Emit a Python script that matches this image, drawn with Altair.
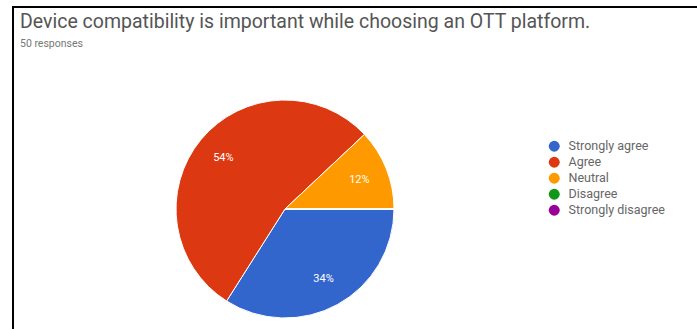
import math
import altair as alt
import pandas as pd

categories = ["Strongly agree", "Agree", "Neutral", "Disagree", "Strongly disagree"]
values = [34, 54, 12, 0, 0]
colors = ["#3366cc", "#dc3912", "#ff9900", "#109618", "#990099"]
title_text = "Device compatibility is important while choosing an OTT platform."
subtitle_text = "50 responses"

df = pd.DataFrame({
    "category": categories,
    "value": values,
    "order": list(range(len(categories))),
})
df["label"] = [f"{v}%" if v > 0 else "" for v in values]

CX, CY, R = 285, 209, 109

color = alt.Color(
    "category:N",
    scale=alt.Scale(domain=categories, range=colors),
    legend=alt.Legend(
        title=None, orient="none", legendX=548, legendY=140,
        symbolType="circle", symbolSize=120, symbolStrokeWidth=0,
        labelFontSize=12.5, labelColor="#666666", labelFont="Roboto",
        rowPadding=3, labelOffset=8,
    ),
    sort=categories,
)

theta = alt.Theta("value:Q", stack=True,
                  scale=alt.Scale(range=[math.pi / 2, math.pi / 2 + 2 * math.pi]))

base = alt.Chart(df).encode(
    theta=theta,
    order=alt.Order("order:Q"),
    x=alt.value(CX), y=alt.value(CY),
)

pie = base.mark_arc(outerRadius=R, stroke="white", strokeWidth=1).encode(color=color)

labels = base.mark_text(radius=80, fontSize=11, color="white", font="Roboto").encode(
    text="label:N"
)

title = alt.Chart(pd.DataFrame({"t": [title_text]})).mark_text(
    align="left", baseline="alphabetic", fontSize=19.5, font="Roboto", color="#555555"
).encode(text="t:N", x=alt.value(20), y=alt.value(28))

subtitle = alt.Chart(pd.DataFrame({"t": [subtitle_text]})).mark_text(
    align="left", baseline="alphabetic", fontSize=10.5, font="Roboto", color="#777777"
).encode(text="t:N", x=alt.value(20), y=alt.value(47))

frame_top = alt.Chart(pd.DataFrame({"a": [0]})).mark_rule(color="black", strokeWidth=2).encode(
    x=alt.value(12), x2=alt.value(697), y=alt.value(7)
)
frame_left = alt.Chart(pd.DataFrame({"a": [0]})).mark_rule(color="black", strokeWidth=2).encode(
    x=alt.value(13), y=alt.value(6), y2=alt.value(329)
)

chart = alt.layer(pie, labels, title, subtitle, frame_top, frame_left).properties(
    width=697, height=329, padding=0,
    autosize=alt.AutoSizeParams(type="none"),
).configure_view(stroke=None)

chart.save("out.html", embed_options={"renderer": "svg", "actions": False})
